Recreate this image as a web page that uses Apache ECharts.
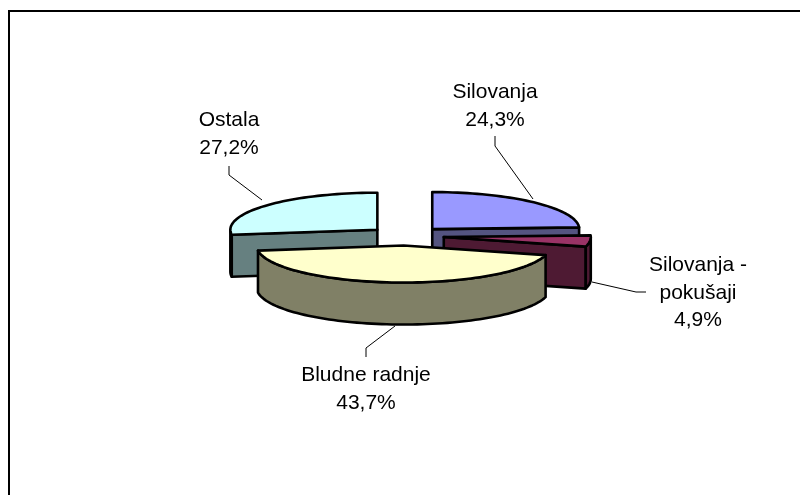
<!DOCTYPE html>
<html>
<head>
<meta charset="utf-8">
<style>
  html, body { margin: 0; padding: 0; background: #fff; }
  #main { width: 800px; height: 495px; }
</style>
<script src="https://cdn.jsdelivr.net/npm/echarts@6/dist/echarts.min.js"></script>
</head>
<body>
<div id="main"></div>
<script>
// data
var categories = ['Silovanja', 'Silovanja - pokušaji', 'Bludne radnje', 'Ostala'];
var shares = [24.3, 4.9, 43.7, 27.2];

// slice colours
var topColors = ['#9999ff', '#993366', '#ffffcc', '#ccffff'];
var sideColors = ['#545480', '#4e1a33', '#808066', '#668080'];

// paint order, back slices first
var paintOrder = [0, 3, 1, 2];

// label and leader layout
var labelPos = [[495, 106], [698, 293], [366, 389], [229, 134]];
var leaders = [
  [[495, 136], [495, 146], [533, 199]],
  [[592, 282], [636, 292], [646, 292]],
  [[395, 326], [366, 348], [366, 357]],
  [[229, 166], [229, 175], [262, 200]]
];

// pie geometry
var CX = 406, CY = 236, RX = 147, RY = 37, DEPTH = 42, EXPLODE = 38;
var DEG = Math.PI / 180;

var total = shares.reduce(function (a, b) { return a + b; }, 0);
var sum = 0;
var seriesData = shares.map(function (v, i) {
  var from = sum / total * 360;
  sum += v;
  return [i, from, sum / total * 360];
});

function rimPoints(cx, cy, a0, a1, dy) {
  var pts = [];
  var n = Math.max(2, Math.ceil((a1 - a0) / 2));
  for (var k = 0; k <= n; k++) {
    var a = (a0 + (a1 - a0) * k / n) * DEG;
    pts.push([cx + RX * Math.sin(a), cy - RY * Math.cos(a) + dy]);
  }
  return pts;
}

function face(points, fill, z2) {
  return {
    type: 'polygon',
    shape: { points: points },
    z2: z2,
    style: { fill: fill, stroke: '#000', lineWidth: 2.6, lineJoin: 'round' }
  };
}

function cutFace(cx, cy, angle, fill, z2) {
  var e = rimPoints(cx, cy, angle, angle, 0)[0];
  return face([[cx, cy], e, [e[0], e[1] + DEPTH], [cx, cy + DEPTH]], fill, z2);
}

function renderSlice(params, api) {
  var i = api.value(0), a0 = api.value(1), a1 = api.value(2);
  var mid = (a0 + a1) / 2 * DEG;
  var cx = CX + EXPLODE * Math.sin(mid);
  var cy = CY - EXPLODE * (RY / RX) * Math.cos(mid);
  var base = paintOrder.indexOf(i) * 10;
  var kids = [];

  // cut walls that face the viewer
  if (Math.sin(a1 * DEG) > 0.01) kids.push(cutFace(cx, cy, a1, sideColors[i], base + 1));
  if (Math.sin(a0 * DEG) < -0.01) kids.push(cutFace(cx, cy, a0, sideColors[i], base + 1));

  // outer wall, front half only
  var f0 = Math.max(a0, 90), f1 = Math.min(a1, 270);
  if (f1 > f0) {
    var wall = rimPoints(cx, cy, f0, f1, 0)
      .concat(rimPoints(cx, cy, f0, f1, DEPTH).reverse());
    kids.push(face(wall, sideColors[i], base + 2));
  }

  // top
  kids.push(face([[cx, cy]].concat(rimPoints(cx, cy, a0, a1, 0)), topColors[i], base + 3));
  return { type: 'group', children: kids };
}

function fmt(v) {
  return v.toFixed(1).replace('.', ',') + '%';
}

function renderLabel(params, api) {
  var i = api.value(0);
  return {
    type: 'group',
    children: [
      {
        type: 'polyline',
        shape: { points: leaders[i] },
        style: { fill: 'none', stroke: '#000', lineWidth: 1 }
      },
      {
        type: 'text',
        x: labelPos[i][0],
        y: labelPos[i][1],
        style: {
          text: categories[i].replace(' - ', ' -\n') + '\n' + fmt(shares[i]),
          fill: '#000',
          font: '21px "Liberation Sans", Arial, sans-serif',
          lineHeight: 27.5,
          align: 'center',
          verticalAlign: 'middle'
        }
      }
    ]
  };
}

var myChart = echarts.init(document.getElementById('main'), null, { renderer: 'canvas' });
myChart.setOption({
  animation: false,
  backgroundColor: '#fff',
  graphic: [{
    type: 'polyline',
    shape: { points: [[800, 11], [9, 11], [9, 495]] },
    style: { fill: 'none', stroke: '#000', lineWidth: 2 }
  }],
  series: [
    { type: 'custom', coordinateSystem: 'none', silent: true, data: seriesData, renderItem: renderSlice },
    { type: 'custom', coordinateSystem: 'none', silent: true, data: seriesData, renderItem: renderLabel }
  ]
});
</script>
</body>
</html>
